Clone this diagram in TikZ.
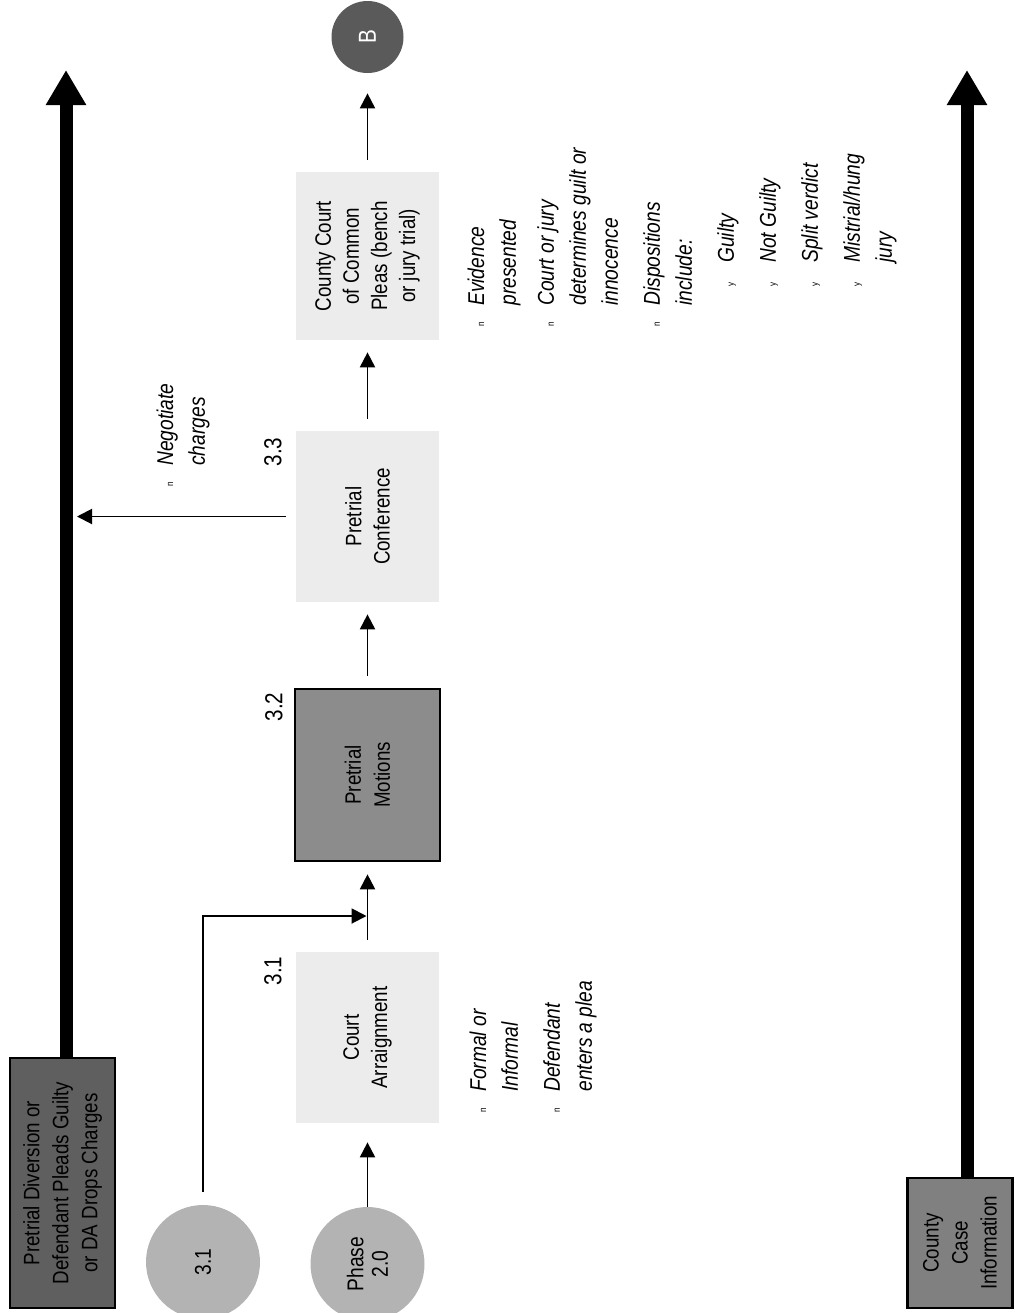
\documentclass[tikz,border=0pt]{standalone}
\usepackage{fontspec}
\setmainfont[FakeStretch=0.84]{Liberation Sans}
\usetikzlibrary{arrows.meta}

\definecolor{paleGray}{HTML}{ECECEC}
\definecolor{discGray}{HTML}{B3B3B3}
\definecolor{divGray}{HTML}{5F5F5F}
\definecolor{infoGray}{HTML}{808080}
\definecolor{motGray}{HTML}{8C8C8C}
\definecolor{bGray}{HTML}{5A5A5A}

\newcommand{\mainbul}{\makebox[0.42cm][l]{\fontsize{5.5}{6}\selectfont\upshape n}}
\newcommand{\subbul}{\hspace*{0.8cm}\makebox[0.48cm][l]{\fontsize{5.5}{6}\selectfont\upshape y}}
\newcommand{\contline}{\hspace*{0.42cm}}

\begin{document}
\begin{tikzpicture}[
  box/.style={rotate=90, align=center, inner sep=2pt, font=\fontsize{12.7}{16}\selectfont},
  stagebox/.style={box, fill=paleGray, minimum width=3.42cm, minimum height=2.86cm},
  darkbox/.style={box, draw=black, line width=1.5pt, font=\fontsize{12.7}{16.5}\selectfont},
  disc/.style={circle, rotate=90, align=center, inner sep=0pt, font=\fontsize{13}{14}\selectfont},
  numlabel/.style={rotate=90, inner sep=0pt, font=\fontsize{14}{16}\selectfont},
  notes/.style={rotate=90, anchor=base west, inner sep=0pt, font=\fontsize{13}{18.2}\selectfont\itshape},
  flow/.style={line width=1.1pt, -{Triangle[width=0.3cm,length=0.3cm]}, shorten <=0.24cm, shorten >=0.24cm},
  bigflow/.style={line width=0.26cm, -{Triangle[width=0.76cm,length=0.7cm]}}
]
\useasboundingbox (0,0) rectangle (20.3,-26.26);

% outcome boxes
\node[darkbox, fill=divGray, minimum width=5cm, minimum height=2.1cm] (div) at (1.25,-23.66) {Pretrial Diversion or\\Defendant Pleads Guilty\\or DA Drops Charges};
\node[darkbox, fill=infoGray, minimum width=2.6cm, minimum height=2.1cm] (info) at (19.2,-24.86) {County\\Case\\Information};

% stages
\node[stagebox] (arr) at (7.35,-20.75) {Court\\Arraignment};
\node[darkbox, fill=motGray, minimum width=3.44cm, minimum height=2.9cm] (mot) at (7.35,-15.5) {Pretrial\\Motions};
\node[stagebox] (conf) at (7.35,-10.33) {Pretrial\\Conference};
\node[stagebox, minimum width=3.36cm] (ccp) at (7.35,-5.12) {County Court\\of Common\\Pleas (bench\\or jury trial)};

\node[disc, fill=discGray, minimum size=2.28cm] (c31) at (4.06,-25.24) {3.1};
\node[disc, fill=discGray, minimum size=2.28cm] (ph20) at (7.35,-25.28) {Phase\\2.0};
\node[disc, fill=bGray, text=white, minimum size=1.44cm, font=\fontsize{14}{16}\selectfont] (b) at (7.35,-0.74) {B};

\node[numlabel] (n31) at (5.46,-19.42) {3.1};
\node[numlabel] (n32) at (5.48,-14.14) {3.2};
\node[numlabel] (n33) at (5.46,-9.04) {3.3};

% notes
\node[notes] (arrnote) at (9.72,-22.26) {\begin{tabular}[t]{@{}l@{}}
\mainbul Formal or\\
\contline Informal\\[0.2cm]
\mainbul Defendant\\
\contline enters a plea
\end{tabular}};
\node[notes] (negnote) at (3.46,-9.74) {\begin{tabular}[t]{@{}l@{}}
\mainbul Negotiate\\
\contline charges
\end{tabular}};
\node[notes] (ccpnote) at (9.68,-6.54) {\begin{tabular}[t]{@{}l@{}}
\mainbul Evidence\\
\contline presented\\[0.12cm]
\mainbul Court or jury\\
\contline determines guilt or\\
\contline innocence\\[0.2cm]
\mainbul Dispositions\\
\contline include:\\[0.2cm]
\subbul Guilty\\[0.2cm]
\subbul Not Guilty\\[0.2cm]
\subbul Split verdict\\[0.2cm]
\subbul Mistrial/hung\\
\hspace*{1.28cm}jury
\end{tabular}};

\coordinate (divtop) at (1.32,-1.4);
\coordinate (infotop) at (19.34,-1.4);
\coordinate (join) at (7.35,-18.32);

\draw[bigflow] (div.east -| divtop) -- (divtop);
\draw[bigflow] (info.east -| infotop) -- (infotop);

\draw[flow, shorten <=0pt, shorten >=0.38cm] (ph20) -- (arr.west);
\draw[flow] (arr.east) -- (mot.west);
\draw[flow] (mot.east) -- (conf.west);
\draw[flow] (conf.east) -- (ccp.west);
\draw[flow, shorten >=0.4cm] (ccp.east) -- (b);
\draw[flow, shorten <=0.26cm, shorten >=0.02cm] (c31) |- (join);
\draw[flow, shorten <=0.2cm, shorten >=0.22cm] (conf.north) -- (conf.north -| divtop);
\end{tikzpicture}
\end{document}
